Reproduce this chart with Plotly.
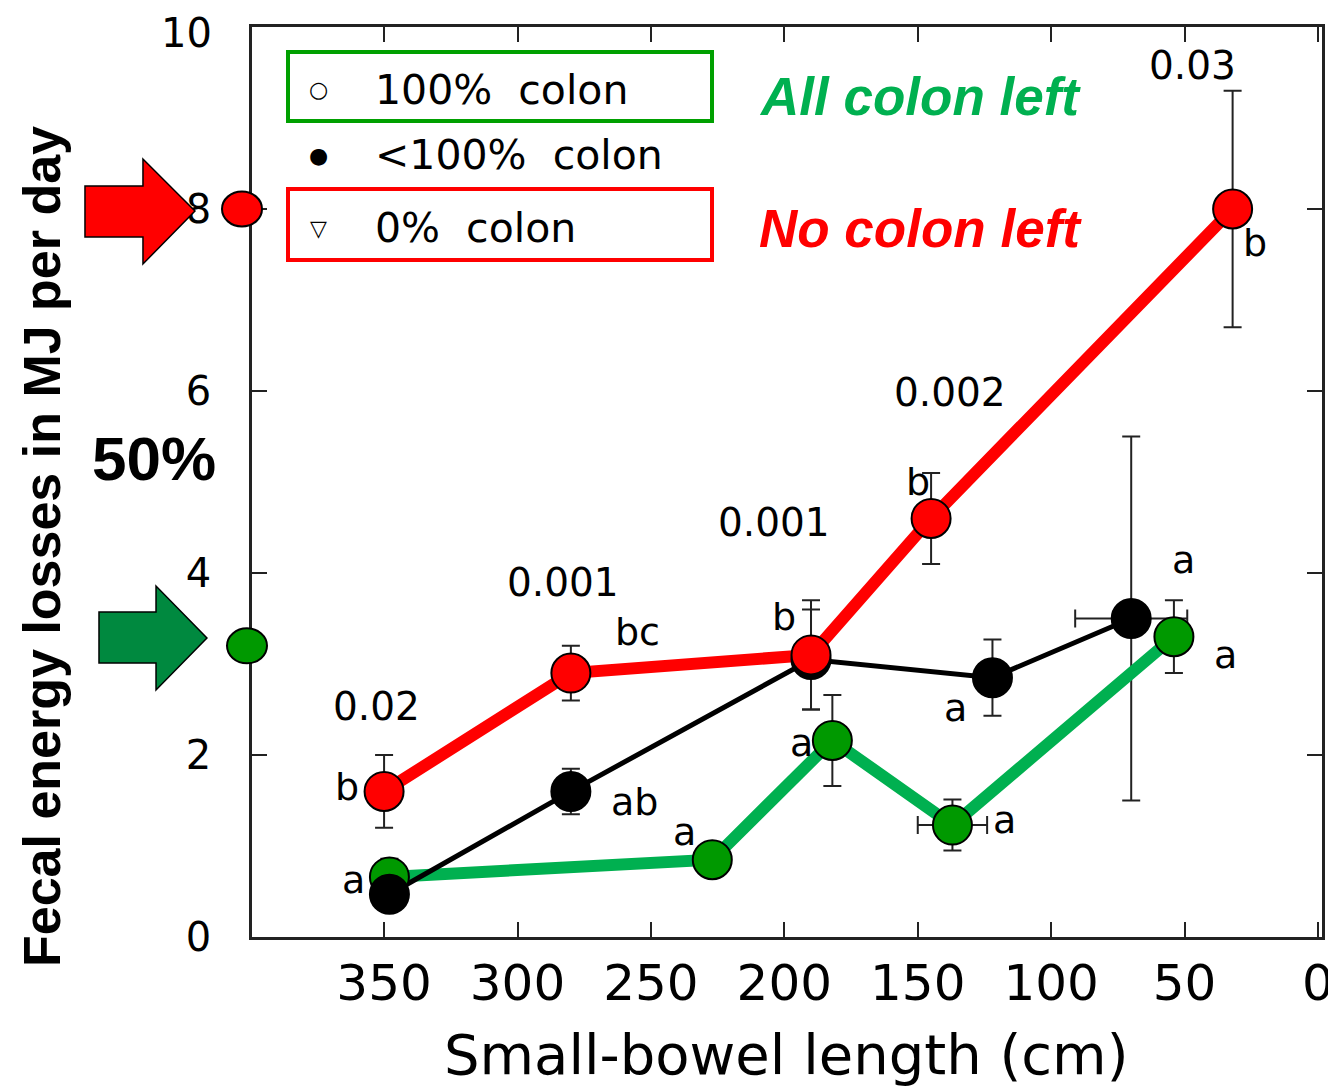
import plotly.graph_objects as go

# ---------------- data ----------------
# 0% colon (red)
red_x = [350, 280, 190, 145, 32]
red_y = [1.6, 2.9, 3.1, 4.6, 8.0]
red_err = [0.4, 0.3, 0.6, 0.5, 1.3]
red_xerr = [0, 0, 0, 0, 4]

# <100% colon (black)
black_x = [348, 280, 190, 122, 70]
black_y = [0.47, 1.6, 3.05, 2.85, 3.5]
black_err = [0.1, 0.25, 0.55, 0.42, 2.0]
black_xerr = [0, 0, 0, 0, 21]

# 100% colon (green)
green_x = [348, 227, 182, 137, 54]
green_y = [0.66, 0.85, 2.16, 1.23, 3.3]
green_err = [0.2, 0.1, 0.5, 0.28, 0.4]
green_xerr = [0, 0, 0, 13, 5]

# reference levels pointed at on the y axis (red: no colon, green: all colon)
side_levels = [8.0, 3.2]

# p-values and group letters
pval_text = ["0.02", "0.001", "0.001", "0.002", "0.03"]
letter_text = ["b", "bc", "b", "b", "b", "a", "ab", "a", "a", "a", "a", "a", "a"]

x_ticks = [350, 300, 250, 200, 150, 100, 50, 0]
y_ticks = [0, 2, 4, 6, 8, 10]
y_ticktext = ["0", "2", "4", "6", "8", "10"]

RED = "#FF0000"
GREEN_LINE = "#00B050"
GREEN_MARK = "#009900"
GREEN_ARROW = "#00893F"
LBL_FONT = "DejaVu Sans"

# page geometry: the html body adds an 8px margin around the figure
OFF = 8
W, H = 1336 - OFF, 1090 - OFF
# plot area in page pixels
PL, PR, PT, PB = 252, 1322, 27, 937
L, R, T, B = PL - OFF, W - (PR - OFF), PT - OFF, H - (PB - OFF)


def px(xp, yp):
    """page pixel -> paper coordinates"""
    return (xp - PL) / (PR - PL), (PB - yp) / (PB - PT)


def poly(points):
    pts = [px(a, b) for a, b in points]
    return "M " + " L ".join(f"{a:.4f},{b:.4f}" for a, b in pts) + " Z"


fig = go.Figure()

err_style = dict(color="#222222", thickness=2, width=9)

# error bars (drawn first, below lines and markers)
for xs, ys, ey, ex in [(green_x, green_y, green_err, green_xerr),
                       (black_x, black_y, black_err, black_xerr),
                       (red_x, red_y, red_err, red_xerr)]:
    fig.add_trace(go.Scatter(
        x=xs, y=ys, mode="markers",
        marker=dict(size=1, opacity=0),
        error_y=dict(type="data", array=ey, visible=True, **err_style),
        error_x=dict(type="data", array=ex, visible=True, **err_style),
        showlegend=False, hoverinfo="skip"))

# lines
fig.add_trace(go.Scatter(x=green_x, y=green_y, mode="lines",
                         line=dict(color=GREEN_LINE, width=12), showlegend=False))
fig.add_trace(go.Scatter(x=black_x, y=black_y, mode="lines",
                         line=dict(color="black", width=5), showlegend=False))
fig.add_trace(go.Scatter(x=red_x, y=red_y, mode="lines",
                         line=dict(color=RED, width=12), showlegend=False))

# markers
fig.add_trace(go.Scatter(x=green_x, y=green_y, mode="markers", name="100% colon",
                         marker=dict(size=39, color=GREEN_MARK, line=dict(color="black", width=2)),
                         showlegend=False))
fig.add_trace(go.Scatter(x=black_x, y=black_y, mode="markers", name="<100% colon",
                         marker=dict(size=39, color="black", line=dict(color="black", width=2)),
                         showlegend=False))
fig.add_trace(go.Scatter(x=red_x, y=red_y, mode="markers", name="0% colon",
                         marker=dict(size=39, color=RED, line=dict(color="black", width=2)),
                         showlegend=False))

annotations = []

# p-value labels
pval_pos = [(353, 2.53), (283, 3.90), (204, 4.55), (138, 5.98), (47, 9.58)]
for t, (xa, ya) in zip(pval_text, pval_pos):
    annotations.append(dict(x=xa, y=ya, xref="x", yref="y", text=t, showarrow=False,
                            font=dict(family=LBL_FONT, size=39, color="black")))

# group letters
letter_pos = [(364, 1.65), (255, 3.35), (200, 3.52), (150, 5.0), (23.5, 7.63),
              (361.5, 0.63), (256, 1.48), (237.5, 1.15), (193.5, 2.13), (136, 2.52),
              (117.5, 1.29), (50.5, 4.14), (34.5, 3.10)]
for t, (xa, ya) in zip(letter_text, letter_pos):
    annotations.append(dict(x=xa, y=ya, xref="x", yref="y", text=t, showarrow=False,
                            font=dict(family=LBL_FONT, size=38, color="black")))

# top y tick label, placed so it stays inside the page
tx, ty = px(214, OFF)
annotations.append(dict(x=tx, y=ty, xref="paper", yref="paper", text=y_ticktext[-1],
                        showarrow=False, xanchor="right", yanchor="top",
                        font=dict(family=LBL_FONT, size=40, color="black")))

# legend-like texts
legend_rows = [("\u25CB", "100%  colon", 90), ("\u25CF", "<100%  colon", 155), ("\u25BD", "0%  colon", 228)]
for sym, txt, yy in legend_rows:
    sx, sy = px(318, yy)
    annotations.append(dict(x=sx, y=sy, xref="paper", yref="paper", text=sym, showarrow=False,
                            xanchor="center", yanchor="middle",
                            font=dict(family=LBL_FONT, size=22, color="black")))
    tx, ty = px(373, yy)
    annotations.append(dict(x=tx, y=ty, xref="paper", yref="paper", text=txt, showarrow=False,
                            xanchor="left", yanchor="middle",
                            font=dict(family=LBL_FONT, size=41, color="black")))

for txt, col, yy in [("All colon left", GREEN_LINE, 97), ("No colon left", RED, 228)]:
    tx, ty = px(757, yy)
    annotations.append(dict(x=tx, y=ty, xref="paper", yref="paper", text=f"<i>{txt}</i>",
                            showarrow=False, xanchor="left", yanchor="middle",
                            font=dict(family="Liberation Sans", size=53, color=col, weight="bold")))

# 50% label
tx, ty = px(154, 458)
annotations.append(dict(x=tx, y=ty, xref="paper", yref="paper", text="50%", showarrow=False,
                        xanchor="center", yanchor="middle",
                        font=dict(family="Liberation Sans", size=62, color="black", weight="bold")))

# axis titles
tx, ty = px(42, 547)
annotations.append(dict(x=tx, y=ty, xref="paper", yref="paper",
                        text="Fecal energy losses in MJ per day", showarrow=False,
                        textangle=-90, xanchor="center", yanchor="middle",
                        font=dict(family="Liberation Sans", size=52, color="black", weight="bold")))
tx, ty = px(786, 1089)
annotations.append(dict(x=tx, y=ty, xref="paper", yref="paper",
                        text="Small-bowel length (cm)", showarrow=False,
                        xanchor="center", yanchor="bottom",
                        font=dict(family=LBL_FONT, size=56, color="black")))

shapes = []
# legend boxes
for (x0, y0, x1, y1), col in [((288, 52, 712, 121), "#00A000"), ((288, 189, 712, 260), RED)]:
    a0, b0 = px(x0, y1)
    a1, b1 = px(x1, y0)
    shapes.append(dict(type="rect", xref="paper", yref="paper", x0=a0, y0=b0, x1=a1, y1=b1,
                       line=dict(color=col, width=4), layer="above"))

# block arrows pointing at the y axis levels
red_arrow = [(85, 186), (143, 186), (143, 159), (195, 211), (143, 264), (143, 237), (85, 237)]
green_arrow = [(99, 612), (156, 612), (156, 586), (207, 638), (156, 690), (156, 663), (99, 663)]
for pts, col in [(red_arrow, RED), (green_arrow, GREEN_ARROW)]:
    shapes.append(dict(type="path", xref="paper", yref="paper", path=poly(pts),
                       fillcolor=col, line=dict(color="black", width=1.5), layer="above"))

# level circles sitting on the y axis
for lvl, col, xpix in zip(side_levels, [RED, GREEN_MARK], [242, 247]):
    ax, _ = px(xpix, 0)
    shapes.append(dict(type="circle", xref="paper", yref="y", xsizemode="pixel",
                       ysizemode="pixel", xanchor=ax, yanchor=lvl,
                       x0=-20, x1=20, y0=-17.5, y1=17.5,
                       fillcolor=col, line=dict(color="black", width=2), layer="above"))

fig.update_layout(
    width=W, height=H,
    margin=dict(l=L, r=R, t=T, b=B, autoexpand=False),
    plot_bgcolor="white", paper_bgcolor="white",
    showlegend=False,
    annotations=annotations,
    shapes=shapes,
)

fig.update_xaxes(
    range=[399.5, -1.5], tickmode="array", tickvals=x_ticks,
    ticks="inside", ticklen=15, tickwidth=2, tickcolor="#222222",
    showline=True, linecolor="#222222", linewidth=2.5, mirror="ticks",
    showgrid=False, zeroline=False,
    tickfont=dict(family=LBL_FONT, size=50, color="black"),
    ticklabelstandoff=0, ticklabeloverflow="allow",
)
fig.update_yaxes(
    range=[0, 10], tickmode="array", tickvals=y_ticks,
    ticktext=y_ticktext[:-1] + [""],
    ticks="inside", ticklen=15, tickwidth=2, tickcolor="#222222",
    showline=True, linecolor="#222222", linewidth=2.5, mirror="ticks",
    showgrid=False, zeroline=False,
    tickfont=dict(family=LBL_FONT, size=40, color="black"),
    ticklabelstandoff=30, ticklabeloverflow="allow",
)

fig.write_html("out.html")
